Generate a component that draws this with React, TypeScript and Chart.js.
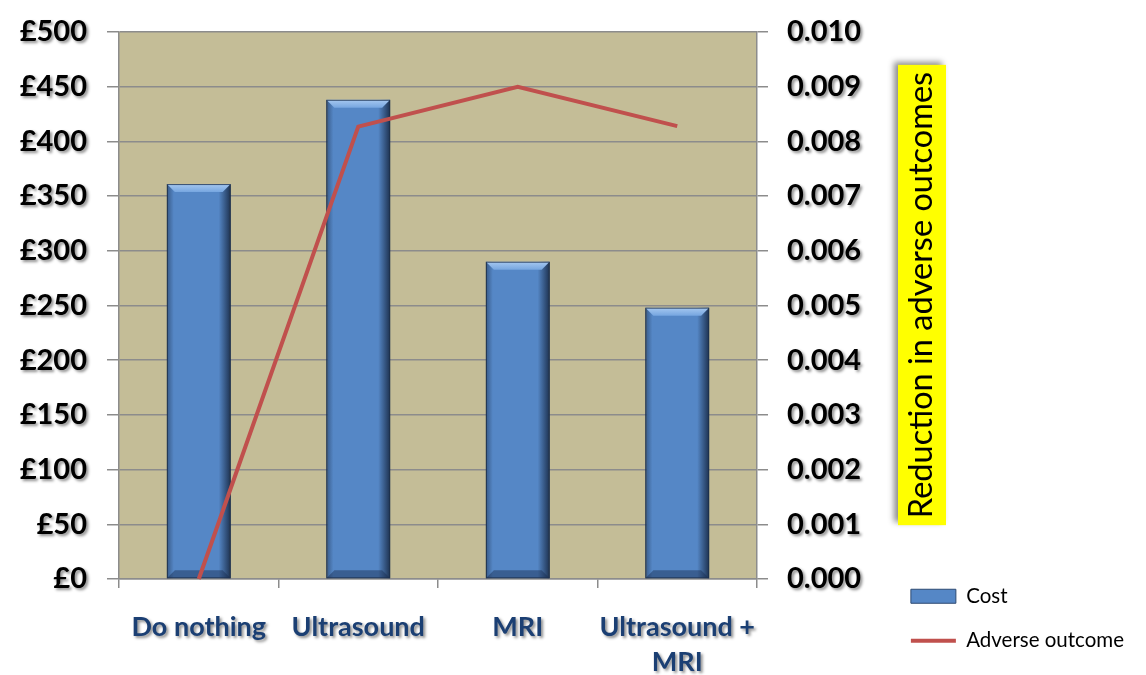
import React, { useEffect, useRef } from 'react';
import { Chart, registerables } from 'chart.js';

Chart.register(...registerables);

const categories: (string | string[])[] = ['Do nothing', 'Ultrasound', 'MRI', ['Ultrasound +', 'MRI']];
const costValues = [361, 438, 290, 248];
const adverseValues = [0, 0.00827, 0.009, 0.00828];
const costTicks = [0, 50, 100, 150, 200, 250, 300, 350, 400, 450, 500];
const adverseTicks = [0, 0.001, 0.002, 0.003, 0.004, 0.005, 0.006, 0.007, 0.008, 0.009, 0.01];
const seriesNames = ['Cost', 'Adverse outcome'];
const rightAxisTitle = 'Reduction in adverse outcomes';

const GRID = '#8C8C8C';
const PLOT_BG = '#C4BD97';
const BAR = '#5587C6';
const LINE = '#C0504D';
const XLABEL = '#1B3F73';
const PAD_RIGHT = 12;

const plotBg = {
  id: 'plotBg',
  beforeDraw(chart: any) {
    const { ctx, chartArea } = chart;
    ctx.save();
    ctx.fillStyle = PLOT_BG;
    ctx.fillRect(chartArea.left, chartArea.top, chartArea.right - chartArea.left, chartArea.bottom - chartArea.top);
    ctx.restore();
  },
};

const legendWidthFix = {
  id: 'legendWidthFix',
  beforeLayout(chart: any) {
    const lg = chart.legend;
    if (!lg || lg.__wrapped) return;
    lg.__wrapped = true;
    const origFit = lg.fit;
    lg.fit = function () {
      this.maxWidth = 400;
      origFit.call(this);
    };
  },
};

const labelShadow = {
  id: 'labelShadow',
  afterLayout(chart: any) {
    Object.values(chart.scales).forEach((s: any) => {
      if (s.__wrapped) return;
      s.__wrapped = true;
      const orig = s.drawLabels;
      s.drawLabels = function (ca: any) {
        const c = this.ctx;
        c.save();
        c.shadowColor = 'rgba(0,0,0,0.45)';
        c.shadowBlur = 3;
        c.shadowOffsetX = 2;
        c.shadowOffsetY = 2;
        orig.call(this, ca);
        c.restore();
      };
    });
  },
};

const barBevel = {
  id: 'barBevel',
  afterDatasetDraw(chart: any, args: any) {
    if (args.meta.type !== 'bar') return;
    const { ctx } = chart;
    ctx.save();
    args.meta.data.forEach((el: any) => {
      const w = el.width;
      const L = el.x - w / 2;
      const R = el.x + w / 2;
      const T = Math.min(el.y, el.base);
      const B = Math.max(el.y, el.base);
      const bev = 8;
      let g = ctx.createLinearGradient(R - 12, 0, R, 0);
      g.addColorStop(0, 'rgba(20,35,60,0)');
      g.addColorStop(1, 'rgba(20,35,60,0.85)');
      ctx.fillStyle = g;
      ctx.fillRect(R - 12, T, 12, B - T);
      g = ctx.createLinearGradient(L, 0, L + 7, 0);
      g.addColorStop(0, 'rgba(20,35,60,0.45)');
      g.addColorStop(1, 'rgba(20,35,60,0)');
      ctx.fillStyle = g;
      ctx.fillRect(L, T, 7, B - T);
      g = ctx.createLinearGradient(0, T, 0, T + bev);
      g.addColorStop(0, '#A6C8F0');
      g.addColorStop(1, '#76A6E0');
      ctx.fillStyle = g;
      ctx.beginPath();
      ctx.moveTo(L, T);
      ctx.lineTo(R, T);
      ctx.lineTo(R - bev, T + bev);
      ctx.lineTo(L + bev, T + bev);
      ctx.closePath();
      ctx.fill();
      ctx.fillStyle = 'rgba(25,45,80,0.45)';
      ctx.beginPath();
      ctx.moveTo(L, B);
      ctx.lineTo(R, B);
      ctx.lineTo(R - bev, B - bev);
      ctx.lineTo(L + bev, B - bev);
      ctx.closePath();
      ctx.fill();
      ctx.strokeStyle = 'rgba(30,50,80,0.8)';
      ctx.lineWidth = 1;
      ctx.strokeRect(L + 0.5, T + 0.5, w - 1, B - T - 1);
    });
    ctx.restore();
  },
};

const axisTitleBox = {
  id: 'axisTitleBox',
  afterDraw(chart: any) {
    const { ctx, chartArea } = chart;
    ctx.save();
    ctx.font = '32.5px Lato';
    const tw = ctx.measureText(rightAxisTitle).width;
    const cx = chartArea.right + 165;
    const cy = chartArea.top + 263;
    const boxW = 48;
    const boxH = tw + 14;
    ctx.shadowColor = 'rgba(0,0,0,0.45)';
    ctx.shadowBlur = 6;
    ctx.shadowOffsetX = -4;
    ctx.shadowOffsetY = -3;
    ctx.fillStyle = '#FFFF00';
    ctx.fillRect(cx - boxW / 2, cy - boxH / 2, boxW, boxH);
    ctx.shadowColor = 'rgba(0,0,0,0)';
    ctx.translate(cx, cy);
    ctx.rotate(-Math.PI / 2);
    ctx.fillStyle = '#000000';
    ctx.textAlign = 'center';
    ctx.textBaseline = 'middle';
    ctx.fillText(rightAxisTitle, 0, 0);
    ctx.restore();
  },
};

export default function App() {
  const ref = useRef<HTMLCanvasElement | null>(null);

  useEffect(() => {
    document.body.style.margin = '0';
    const canvas = ref.current;
    if (!canvas) return;
    const chart = new Chart(canvas, {
      type: 'bar',
      data: {
        labels: categories as any,
        datasets: [
          {
            type: 'bar',
            label: seriesNames[0],
            data: costValues,
            yAxisID: 'y',
            backgroundColor: BAR,
            borderColor: '#2E4A72',
            borderWidth: 1,
            barPercentage: 0.4,
            categoryPercentage: 1,
            order: 1,
            pointStyle: 'rect',
          } as any,
          {
            type: 'line',
            label: seriesNames[1],
            data: adverseValues,
            yAxisID: 'y2',
            borderColor: LINE,
            backgroundColor: LINE,
            borderWidth: 4,
            pointRadius: 0,
            tension: 0,
            clip: false,
            order: 0,
            pointStyle: 'line',
          } as any,
        ],
      },
      options: {
        animation: false,
        responsive: false,
        devicePixelRatio: 1,
        layout: { padding: { top: 32, right: PAD_RIGHT, bottom: 0, left: 0 } },
        plugins: {
          tooltip: { enabled: false },
          legend: {
            position: 'right',
            align: 'end',
            labels: {
              usePointStyle: true,
              pointStyleWidth: 45,
              boxHeight: 14,
              padding: 24,
              color: '#000000',
              font: { family: 'Lato', size: 20.5 },
              sort: (a: any, b: any) => a.datasetIndex - b.datasetIndex,
            },
          },
        },
        scales: {
          x: {
            offset: true,
            grid: {
              display: true,
              offset: true,
              drawOnChartArea: false,
              drawTicks: true,
              tickLength: 9,
              color: GRID,
              lineWidth: 1.5,
            },
            border: { display: true, color: GRID, width: 1.5 },
            ticks: {
              color: XLABEL,
              padding: 22,
              maxRotation: 0,
              autoSkip: false,
              font: { family: 'Lato', size: 27, weight: 'bold', lineHeight: 1.3 },
            },
            afterFit: (s: any) => {
              s.height = 96;
            },
          },
          y: {
            position: 'left',
            min: 0,
            max: 500,
            afterBuildTicks: (s: any) => {
              s.ticks = costTicks.map((v) => ({ value: v }));
            },
            grid: { color: GRID, lineWidth: 1.5, tickLength: 12, drawTicks: true },
            border: { display: true, color: GRID, width: 1.5 },
            ticks: {
              color: '#000000',
              padding: 20,
              font: { family: 'Lato', size: 29, weight: 'bold' },
              callback: (v: any) => '£' + v,
            },
            afterFit: (s: any) => {
              s.width = 119;
              s.paddingTop = 0;
              s.paddingBottom = 0;
            },
          },
          y2: {
            position: 'right',
            min: 0,
            max: 0.01,
            afterBuildTicks: (s: any) => {
              s.ticks = adverseTicks.map((v) => ({ value: v }));
            },
            grid: { drawOnChartArea: false, color: GRID, lineWidth: 1.5, tickLength: 11, drawTicks: true },
            border: { display: true, color: GRID, width: 1.5 },
            ticks: {
              color: '#000000',
              padding: 19,
              font: { family: 'Lato', size: 29, weight: 'bold' },
              callback: (v: any) => Number(v).toFixed(3),
            },
            afterFit: (s: any) => {
              const lw = s.chart.legend ? s.chart.legend.width : 0;
              s.width = Math.max(100, s.chart.width - PAD_RIGHT - lw - 757);
              s.paddingTop = 0;
              s.paddingBottom = 0;
            },
          },
        },
      },
      plugins: [plotBg, legendWidthFix, labelShadow, barBevel, axisTitleBox],
    });
    return () => chart.destroy();
  }, []);

  return (
    <div style={{ width: 1146, height: 675, position: 'relative', background: '#ffffff' }}>
      <canvas ref={ref} width={1146} height={675} style={{ display: 'block' }} />
    </div>
  );
}
